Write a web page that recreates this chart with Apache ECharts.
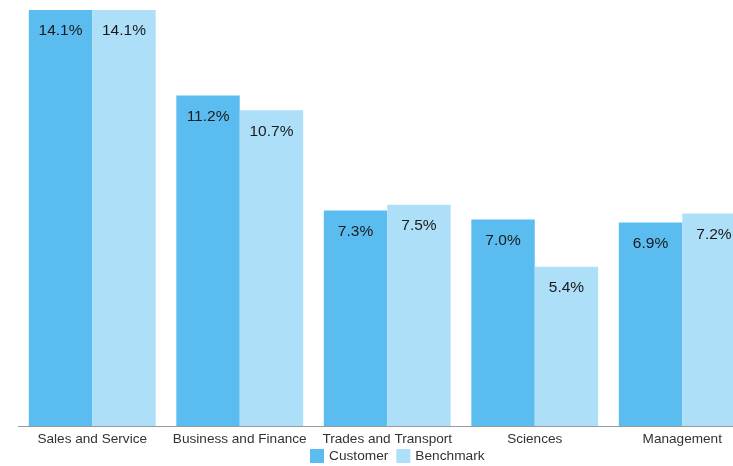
<!DOCTYPE html>
<html><head><meta charset="utf-8">
<script src="https://cdn.jsdelivr.net/npm/echarts@6/dist/echarts.min.js"></script>
<style>html,body{margin:0;padding:0;background:#fff;overflow:hidden;width:733px;height:466px}#c{width:760px;height:466px}</style>
</head><body><div id="c"></div>
<script>
const categories = ['Sales and Service', 'Business and Finance', 'Trades and Transport', 'Sciences', 'Management'];
const customer = [14.1, 11.2, 7.3, 7.0, 6.9];
const benchmark = [14.1, 10.7, 7.5, 5.4, 7.2];
const seriesNames = ['Customer', 'Benchmark'];

const font = '"Liberation Sans", Arial, Helvetica, sans-serif';
const chart = echarts.init(document.getElementById('c'));
const label = {
  show: true, position: 'insideTop', distance: 13,
  formatter: p => p.value.toFixed(1) + '%',
  color: '#1a1a1a', fontSize: 15.5, fontFamily: font
};
chart.setOption({
  animation: false,
  grid: { left: 18.5, right: 4, top: 10, bottom: 40, containLabel: false },
  legend: {
    data: seriesNames, left: 305, top: 444, itemWidth: 14, itemHeight: 14, itemGap: 8,
    icon: 'rect',
    textStyle: { fontSize: 13.7, color: '#333', fontFamily: font }
  },
  xAxis: {
    type: 'category', data: categories,
    axisLine: { lineStyle: { color: '#999' } },
    axisTick: { show: false },
    axisLabel: { fontSize: 13.6, color: '#333', fontFamily: font, margin: 6, interval: 0 }
  },
  yAxis: { type: 'value', min: 0, max: 14.1, show: false, splitLine: { show: false } },
  series: [
    { name: seriesNames[0], type: 'bar', data: customer, barGap: '0%', barCategoryGap: '14%',
      itemStyle: { color: '#5bbdef' }, label: label },
    { name: seriesNames[1], type: 'bar', data: benchmark,
      itemStyle: { color: '#addff8' }, label: label }
  ]
});
</script></body></html>
